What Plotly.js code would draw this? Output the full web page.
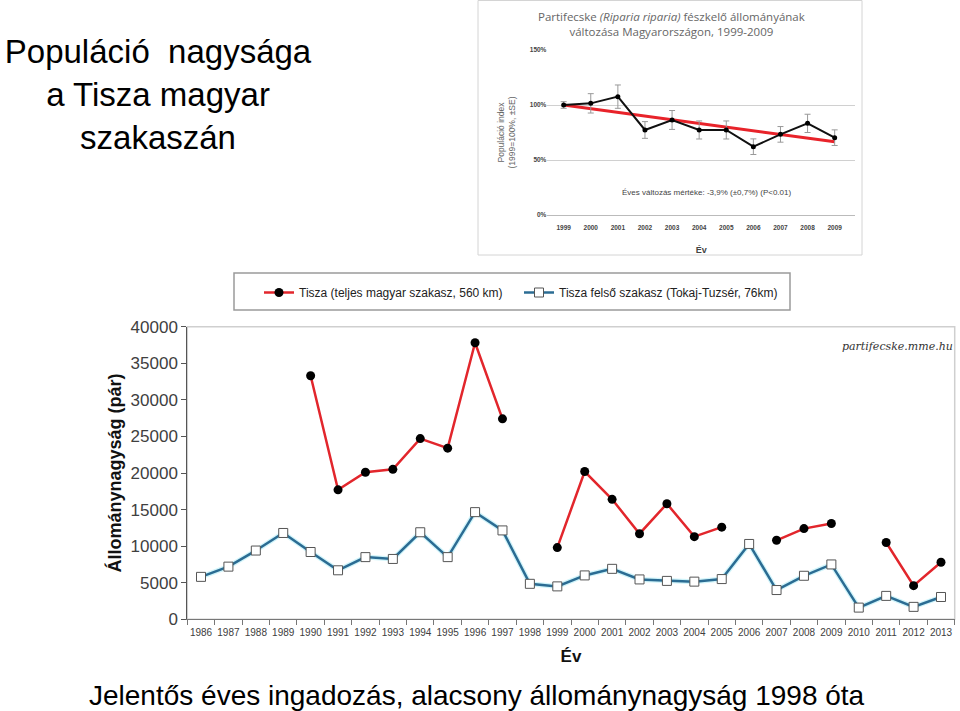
<!DOCTYPE html>
<html>
<head>
<meta charset="utf-8">
<script src="https://cdn.plot.ly/plotly-3.0.1.min.js"></script>
<style>html,body{margin:0;padding:0;background:#fff;}#chart{width:960px;height:711px;}</style>
</head>
<body>
<div id="chart"></div>
<script>
// Main chart data
const years = ['1986','1987','1988','1989','1990','1991','1992','1993','1994','1995','1996','1997','1998','1999','2000','2001','2002','2003','2004','2005','2006','2007','2008','2009','2010','2011','2012','2013'];
const tiszaFull = [null,null,null,null,33300,17700,20100,20500,24700,23400,37800,27400,null,9800,20200,16400,11700,15800,11300,12600,null,10800,12400,13100,null,10500,4600,7800];
const tiszaUpper = [5800,7200,9400,11800,9200,6700,8500,8250,11900,8500,14650,12150,4850,4500,6000,6900,5450,5250,5150,5500,10300,4000,5950,7500,1600,3200,1700,3050];
const seriesNames = ['Tisza (teljes magyar szakasz, 560 km)','Tisza felső szakasz (Tokaj-Tuzsér, 76km)'];

// Flood ("zöldár") markers
const floodYears = ['1998','2006','2010'];
const floodArrowTop = [30200, 31600, 23800];
const floodArrowTip = [12300, 12000, 8900];
const floodLabelY = [34700, 35600, 27400];

// Inset chart data
const insetYears = ['1999','2000','2001','2002','2003','2004','2005','2006','2007','2008','2009'];
const insetIndex = [100,101.5,107.6,77.3,86.4,77.3,77.3,62.1,73.3,83.3,70.3];
const insetSE = [3,8.8,10.6,7.6,8.6,8.2,8.2,7.1,7.1,8.3,7.1];
const trendYears = ['1999','2009'];
const trendValues = [100,66.5];
const insetTickVals = [0,50,100,150];
const insetTickText = ['0%','50%','100%','150%'];

const W = 960, H = 711;
const px = v => v / W;
const py = v => 1 - v / H;

const green = '#2e8f60';
const greenText = '#66a088';
const sans = 'Arial, Liberation Sans, sans-serif';

const traces = [
  {x: years, y: tiszaUpper, mode: 'lines', line: {color: 'rgba(150,230,245,0.45)', width: 5}, showlegend: false, hoverinfo: 'skip', xaxis: 'x', yaxis: 'y'},
  {x: years, y: tiszaFull, name: seriesNames[0], mode: 'lines+markers', line: {color: '#e2262c', width: 2.5}, marker: {color: '#000', size: 9}, xaxis: 'x', yaxis: 'y'},
  {x: years, y: tiszaUpper, name: seriesNames[1], mode: 'lines+markers', line: {color: '#2b6c93', width: 2.5}, marker: {symbol: 'square', color: '#fff', size: 9, line: {color: '#555', width: 1}}, xaxis: 'x', yaxis: 'y'},
  {x: trendYears, y: trendValues, mode: 'lines', line: {color: '#e8232a', width: 3}, showlegend: false, xaxis: 'x2', yaxis: 'y2'},
  {x: insetYears, y: insetIndex, mode: 'lines+markers', line: {color: '#111', width: 2}, marker: {color: '#000', size: 5}, error_y: {type: 'data', array: insetSE, visible: true, color: '#999', thickness: 1, width: 3}, showlegend: false, xaxis: 'x2', yaxis: 'y2'}
];

const annotations = [];
floodYears.forEach((yr, i) => {
  annotations.push({x: yr, y: floodArrowTip[i], ax: yr, ay: floodArrowTop[i], xref: 'x', yref: 'y', axref: 'x', ayref: 'y', text: '', showarrow: true, arrowhead: 2, arrowsize: 0.8, arrowwidth: 4.5, arrowcolor: green});
  annotations.push({x: yr, y: floodLabelY[i], xref: 'x', yref: 'y', xanchor: 'center', yanchor: 'middle', text: 'zöldár<br>' + yr, showarrow: false, font: {family: sans, size: 17, color: greenText}, align: 'center'});
});
annotations.push({x: px(897), y: py(346), xref: 'paper', yref: 'paper', xanchor: 'center', yanchor: 'middle', text: '<i>partifecske.mme.hu</i>', showarrow: false, font: {family: 'Georgia, DejaVu Serif, serif', size: 11, color: '#333'}});
annotations.push({x: px(477), y: py(695), xref: 'paper', yref: 'paper', xanchor: 'center', yanchor: 'middle', text: 'Jelentős éves ingadozás, alacsony állománynagyság 1998 óta', showarrow: false, font: {family: sans, size: 28, color: '#000'}});
annotations.push({x: px(671), y: py(24), xref: 'paper', yref: 'paper', xanchor: 'center', yanchor: 'middle', text: 'Partifecske <i>(Riparia riparia)</i> fészkelő állományának<br>változása Magyarországon, 1999-2009', showarrow: false, font: {family: 'Open Sans, Liberation Sans, sans-serif', size: 11.5, color: '#666'}, align: 'center'});
annotations.push({x: px(706), y: py(192), xref: 'paper', yref: 'paper', xanchor: 'center', yanchor: 'middle', text: 'Éves változás mértéke: -3,9% (±0,7%) (P<0.01)', showarrow: false, font: {family: sans, size: 8, color: '#444'}});

const layout = {
  width: W, height: H,
  margin: {l: 0, r: 0, t: 0, b: 0},
  paper_bgcolor: '#fff', plot_bgcolor: 'rgba(0,0,0,0)',
  font: {family: sans, color: '#404040'},
  title: {text: 'Populáció\u00a0 nagysága<br>a Tisza magyar<br>szakaszán', x: px(158), xanchor: 'center', xref: 'paper', y: py(63), yanchor: 'middle', yref: 'paper', font: {family: sans, size: 33, color: '#000'}},
  showlegend: true,
  legend: {orientation: 'h', x: px(259), y: py(278), xanchor: 'left', yanchor: 'top', bgcolor: 'rgba(0,0,0,0)', font: {family: sans, size: 12, color: '#222'}, entrywidth: 215},
  xaxis: {domain: [px(187.3), px(954.7)], anchor: 'y', type: 'category', categoryorder: 'array', categoryarray: years, range: [-0.5, 27.5], showline: true, linecolor: '#777', linewidth: 1, ticks: 'outside', tickson: 'boundaries', ticklen: 5, tickcolor: '#777', tickangle: 0, ticklabelstandoff: 4, showgrid: false, tickfont: {family: sans, size: 10, color: '#404040'}, title: {text: '<b>Év</b>', font: {size: 17, color: '#111'}, standoff: 12}},
  yaxis: {domain: [py(619.3), py(326.7)], anchor: 'x', range: [0, 40000], dtick: 5000, tickformat: 'd', showline: true, linecolor: '#555', linewidth: 1, ticks: 'outside', ticklen: 5, tickcolor: '#555', showgrid: false, zeroline: false, tickfont: {size: 17, color: '#404040'}, title: {text: '<b>Állománynagyság (pár)</b>', font: {size: 18, color: '#111'}, standoff: 4}},
  xaxis2: {domain: [px(547.4), px(855)], anchor: 'y2', type: 'category', categoryorder: 'array', categoryarray: insetYears, range: [-0.6, 10.75], showline: true, linecolor: '#bbb', ticks: '', tickangle: 0, ticklabelstandoff: 6, showgrid: false, tickfont: {size: 6.5, color: '#444', weight: 'bold'}, title: {text: '<b>Év</b>', font: {size: 9, color: '#444'}, standoff: 16}},
  yaxis2: {domain: [py(215), py(50)], anchor: 'x2', range: [0, 150], tickvals: insetTickVals, ticktext: insetTickText, showgrid: true, gridcolor: '#d0d0d0', zeroline: false, showline: false, tickfont: {size: 6.5, color: '#444', weight: 'bold'}, title: {text: 'Populáció index<br>(1999=100%, ±SE)', font: {size: 8.5, color: '#666'}, standoff: 12}},
  shapes: [
    {type: 'rect', xref: 'paper', yref: 'paper', x0: px(234), x1: px(790), y0: py(310), y1: py(273), line: {color: '#9a9a9a', width: 1.5}},
    {type: 'rect', xref: 'x domain', yref: 'y domain', x0: 0, x1: 1, y0: 0, y1: 1, line: {color: '#cfcfcf', width: 1.5}, layer: 'below'},
    {type: 'rect', xref: 'paper', yref: 'paper', x0: px(478), x1: px(862), y0: py(255), y1: py(0.5), line: {color: '#d4d4d4', width: 1}, layer: 'below'}
  ],
  annotations: annotations
};

Plotly.newPlot('chart', traces, layout, {displayModeBar: false, staticPlot: true});
</script>
</body>
</html>
